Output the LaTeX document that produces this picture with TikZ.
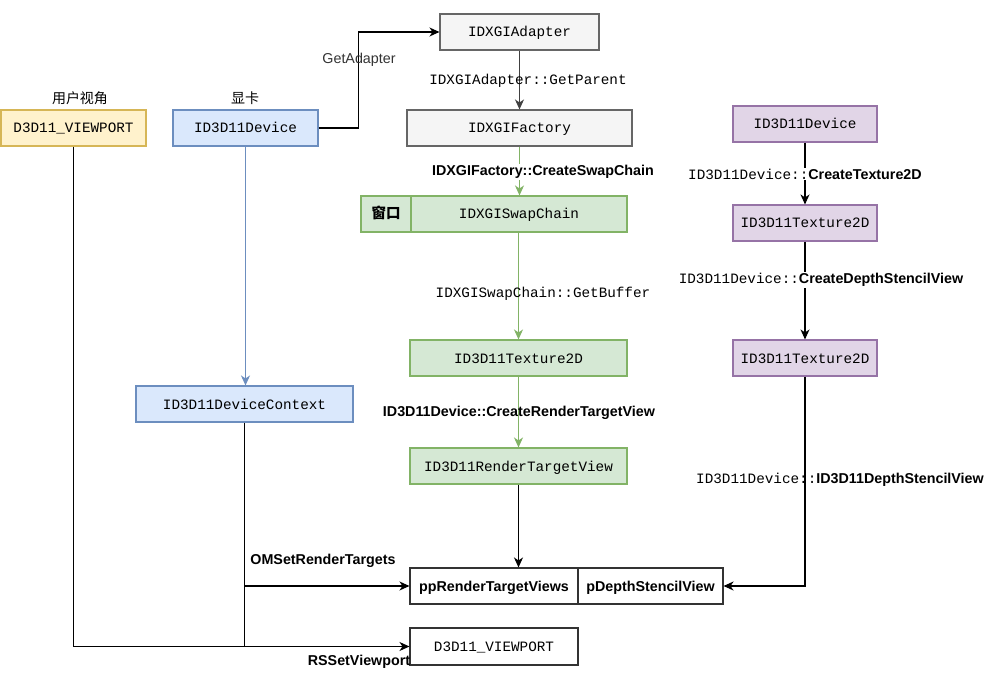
\documentclass[tikz,border=0pt]{standalone}
\usepackage{fontspec}
\setmainfont{Liberation Sans}
\newfontfamily\mono{Liberation Mono}
\newfontfamily\cjk{Noto Sans CJK SC}
\usetikzlibrary{arrows.meta}
\definecolor{yfill}{HTML}{FFF2CC}\definecolor{ydraw}{HTML}{D6B656}
\definecolor{bfill}{HTML}{DAE8FC}\definecolor{bdraw}{HTML}{6C8EBF}
\definecolor{gfill}{HTML}{F5F5F5}\definecolor{gdraw}{HTML}{666666}
\definecolor{grfill}{HTML}{D5E8D4}\definecolor{grdraw}{HTML}{82B366}
\definecolor{pfill}{HTML}{E1D5E7}\definecolor{pdraw}{HTML}{9673A6}
\definecolor{lbl}{HTML}{333333}
\tikzset{
  box/.style={draw, line width=1.1pt, inner sep=0pt, minimum height=36pt, text height=10pt, text depth=0pt, font=\fontsize{14.3}{16}\mono},
  ybox/.style={box, fill=yfill, draw=ydraw},
  bbox/.style={box, fill=bfill, draw=bdraw},
  gbox/.style={box, fill=gfill, draw=gdraw},
  grbox/.style={box, fill=grfill, draw=grdraw},
  pbox/.style={box, fill=pfill, draw=pdraw},
  wbox/.style={box, fill=white, draw=black!80},
  arr/.style={line width=1.1pt, -{Stealth[length=10pt,width=9pt,inset=3pt]}},
  lab/.style={inner sep=1pt, font=\fontsize{14.3}{16}\selectfont},
  blab/.style={lab, font=\fontsize{14.3}{16}\selectfont\bfseries},
  mlab/.style={lab, font=\fontsize{14.3}{16}\mono},
}
\begin{document}
\begin{tikzpicture}[x=1pt,y=-1pt]
\useasboundingbox (0,0) rectangle (994,687);
% nodes
\node[ybox, minimum width=145pt] (vpY) at (73.5,128) {D3D11\_VIEWPORT};
\node[lab, font=\fontsize{14}{16}\cjk] (tY) at (80,98) {用户视角};
\node[bbox, minimum width=145pt] (dev) at (245.5,128) {ID3D11Device};
\node[lab, font=\fontsize{14}{16}\cjk] (tD) at (245,98) {显卡};
\node[gbox, minimum width=159pt] (adapter) at (519.5,32) {IDXGIAdapter};
\node[gbox, minimum width=225pt] (factory) at (519.5,128) {IDXGIFactory};
\node[grbox, minimum width=50pt, font=\fontsize{14.5}{16}\cjk\bfseries] (win) at (386,214) {窗口};
\node[grbox, minimum width=216pt] (swap) at (519,214) {IDXGISwapChain};
\node[grbox, minimum width=217pt] (tex) at (518.5,358) {ID3D11Texture2D};
\node[grbox, minimum width=217pt] (rtv) at (518.5,466) {ID3D11RenderTargetView};
\node[bbox, minimum width=217pt] (ctx) at (244.5,404) {ID3D11DeviceContext};
\node[wbox, minimum width=168pt, font=\fontsize{14.3}{16}\selectfont\bfseries] (pprtv) at (494,586) {ppRenderTargetViews};
\node[wbox, minimum width=145pt, font=\fontsize{14.3}{16}\selectfont\bfseries] (pdsv) at (650.5,586) {pDepthStencilView};
\node[wbox, minimum width=168pt, minimum height=37pt] (vpB) at (494,646.5) {D3D11\_VIEWPORT};
\node[pbox, minimum width=144pt] (pdev) at (805,124) {ID3D11Device};
\node[pbox, minimum width=144pt] (ptex1) at (805,223) {ID3D11Texture2D};
\node[pbox, minimum width=144pt] (ptex2) at (805,358) {ID3D11Texture2D};
% connectors
\draw[arr] (dev.east) -- ++(40,0) |- (adapter.west);
\draw[arr, draw=black!75] (adapter.south) -- (factory.north);
\draw[arr, draw=grdraw] (factory.south) -- (factory.south |- swap.north);
\draw[arr, draw=grdraw] (swap.south -| tex.north) -- (tex.north);
\draw[arr, draw=grdraw] (tex.south) -- (rtv.north);
\draw[arr] (rtv.south) -- (rtv.south |- pprtv.north);
\draw[arr, draw=bdraw] (dev.south) -- (dev.south |- ctx.north);
\draw[line width=1.1pt] (ctx.south) -- (ctx.south |- vpB.west);
\draw[arr] (ctx.south |- pprtv.west) -- (pprtv.west);
\draw[arr] (vpY.south) |- (vpB.west);
\draw[arr] (pdev.south) -- (ptex1.north);
\draw[arr] (ptex1.south) -- (ptex2.north);
\draw[arr] (ptex2.south) |- (pdsv.east);
% labels
\node[lab, text=lbl] (lGA) at (359,60) {GetAdapter};
\node[mlab] (lGP) at (528,81) {IDXGIAdapter::GetParent};
\node[blab, fill=white] (lCS) at (543,172) {IDXGIFactory::CreateSwapChain};
\node[mlab] (lGB) at (543,294) {IDXGISwapChain::GetBuffer};
\node[blab] (lRT) at (519,413) {ID3D11Device::CreateRenderTargetView};
\node[lab, fill=white] (lT2) at (805,174) {{\mono ID3D11Device::}{\bfseries CreateTexture2D}};
\node[lab, fill=white] (lDS) at (821,280) {{\mono ID3D11Device::}{\bfseries CreateDepthStencilView}};
\node[lab] (lDV) at (840,480) {{\mono ID3D11Device::}{\bfseries ID3D11DepthStencilView}};
\node[blab] (lOM) at (323,561) {OMSetRenderTargets};
\node[blab] (lRS) at (359,662) {RSSetViewport};
\end{tikzpicture}
\end{document}
